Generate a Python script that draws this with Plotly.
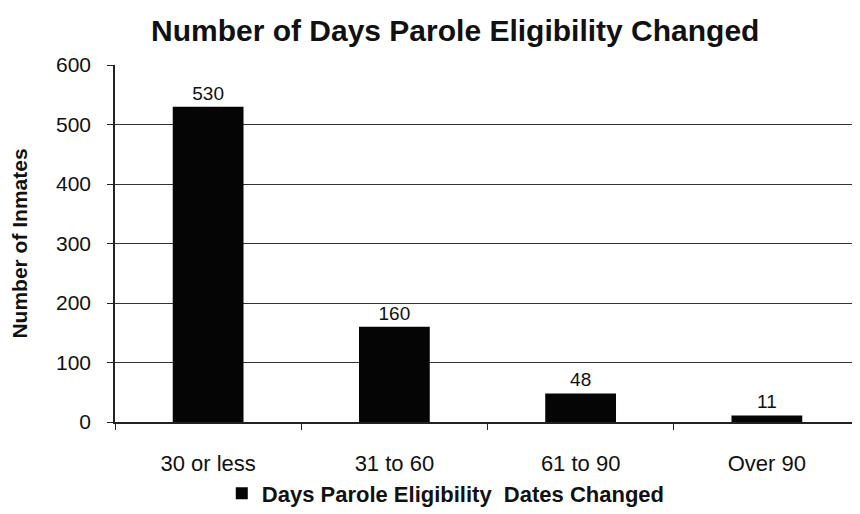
import plotly.graph_objects as go

categories = ["30 or less", "31 to 60", "61 to 90", "Over 90"]
values = [530, 160, 48, 11]
series_name = "Days Parole Eligibility  Dates Changed"
title_text = "Number of Days Parole Eligibility Changed"
y_title = "Number of Inmates"
y_ticks = [0, 100, 200, 300, 400, 500, 600]

FONT = "Arial, Liberation Sans, sans-serif"

fig = go.Figure()
fig.add_trace(go.Bar(
    x=categories, y=values, name="<b>" + series_name + "</b>",
    marker=dict(color="#050505", line=dict(width=0)),
    width=0.38,
    text=[str(v) for v in values], textposition="outside",
    textfont=dict(family=FONT, size=19, color="#111"),
    cliponaxis=False,
    showlegend=True,
))

# page body has an 8px default margin; margins compensate for it
fig.update_layout(
    width=860, height=514,
    paper_bgcolor="white", plot_bgcolor="white",
    margin=dict(l=107, r=8, t=57, b=97),
    font=dict(family=FONT, color="#111"),
    title=dict(text="<b>" + title_text + "</b>", x=0.52, xanchor="center",
               y=0.957, yanchor="middle", yref="container",
               font=dict(family=FONT, size=30, color="#111")),
    legend=dict(orientation="h", x=0.444, xanchor="center", y=-0.2, yanchor="middle",
                font=dict(family=FONT, size=22, color="#111"),
                traceorder="normal"),
)

fig.update_xaxes(
    type="category", tickson="boundaries", ticks="outside", ticklen=6,
    tickcolor="#222", showline=True, linecolor="#222", linewidth=1.5,
    showgrid=False, tickfont=dict(family=FONT, size=22, color="#111"),
    ticklabelstandoff=21, automargin=False,
    range=[-0.5, 3.5],
)
fig.update_yaxes(
    range=[0, 600], tickvals=y_ticks, ticks="outside", ticklen=6,
    tickcolor="#222", showline=True, linecolor="#222", linewidth=1.5,
    showgrid=True, gridcolor="#333", gridwidth=1.2,
    tickfont=dict(family=FONT, size=21, color="#111"),
    ticklabelstandoff=12, automargin=False,
    title=dict(text="<b>" + y_title + "</b>", font=dict(family=FONT, size=21, color="#111"), standoff=26),
    zeroline=False,
)

fig.write_html("out.html")
